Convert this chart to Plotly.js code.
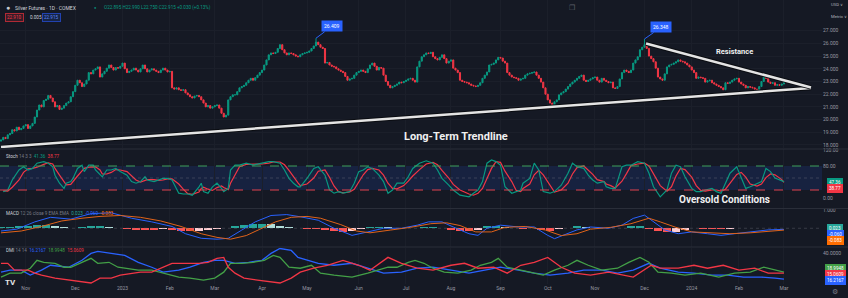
<!DOCTYPE html>
<html><head><meta charset="utf-8">
<script src="https://cdn.plot.ly/plotly-3.0.1.min.js"></script>
<style>html,body{margin:0;padding:0;background:#151924;}#chart{width:848px;height:298px;}</style>
</head><body><div id="chart"></div>
<script>
// ---------- data ----------
const firstOpen = 18.3;
const closes = [
18.4,18.6,18.5,18.8,18.9,19.2,19.1,19.4,19.2,19.3,
19.5,19.6,19.3,19.5,19.7,20.2,20.75,21.15,21.0,21.5,
21.6,21.9,21.7,21.4,21.0,21.1,20.8,20.9,21.1,21.3,
21.4,21.8,22.2,22.7,23.1,22.9,22.6,22.8,23.1,23.7,
23.6,23.9,24.0,24.15,23.35,23.6,23.8,24.05,24.3,24.1,
23.9,24.1,24.05,24.2,24.45,24.0,23.7,23.8,23.9,24.05,
23.9,23.75,24.0,24.3,24.0,23.75,23.9,24.0,23.9,23.8,
23.7,23.9,24.05,23.9,23.75,23.8,22.5,22.4,22.5,22.35,
22.3,22.35,22.1,21.95,21.8,21.7,21.85,21.9,21.8,21.55,
21.3,21.0,21.1,20.9,21.0,21.1,21.15,20.9,20.5,20.2,
20.35,21.55,21.8,21.95,21.95,22.2,22.5,22.6,22.7,22.9,
23.1,23.25,23.1,23.3,23.5,23.7,23.9,24.3,24.7,25.1,
25.25,25.2,25.3,25.6,25.9,25.5,25.25,25.1,25.25,25.2,
25.1,25.0,24.95,25.1,25.2,25.25,25.3,25.4,25.6,25.8,
26.1,25.9,25.7,25.6,24.45,24.5,24.3,24.2,24.15,24.0,
23.9,23.8,23.7,23.4,23.1,23.2,23.25,23.5,23.7,23.8,
23.9,23.8,23.7,24.0,24.3,24.45,24.2,23.9,24.1,24.05,
23.5,23.0,22.7,22.5,22.6,22.7,22.8,22.95,22.9,23.0,
23.1,23.2,23.25,23.1,22.95,24.15,24.6,24.95,25.1,25.25,
25.2,25.3,24.95,24.8,24.7,24.9,25.1,24.8,24.45,24.6,
24.7,24.05,23.9,23.7,23.1,23.0,22.95,22.9,22.8,22.7,
22.65,22.6,22.7,22.9,23.25,23.5,23.75,24.3,24.35,24.45,
24.7,24.9,24.85,24.6,24.45,23.7,23.5,23.35,23.3,23.25,
23.1,23.2,23.25,23.5,23.6,23.65,23.7,23.75,23.5,23.25,
22.95,22.5,22.0,21.55,21.3,21.15,21.4,21.55,21.95,22.1,
22.2,22.4,22.6,22.8,22.95,23.1,23.25,23.4,23.5,23.1,
23.0,23.1,23.2,23.3,23.35,23.1,22.95,23.25,23.1,23.0,
22.9,22.95,22.5,22.45,22.6,23.2,23.7,23.9,23.8,23.7,
23.9,24.45,24.7,24.95,25.5,25.7,25.9,25.6,25.0,24.8,
24.55,24.05,23.35,23.2,23.1,23.6,24.15,24.3,24.35,24.45,
24.55,24.7,24.6,24.55,24.45,24.3,24.15,23.9,23.7,23.25,
23.35,23.3,23.25,22.95,23.05,23.1,22.9,22.8,22.7,22.6,
22.5,22.35,22.9,22.85,22.95,23.1,23.2,23.25,22.95,22.8,
22.7,22.5,22.6,22.55,22.5,22.4,22.35,22.6,23.0,23.35,
23.25,22.95,22.85,22.9,22.7,22.75,22.7,22.8,22.95
];
const peakIdx = [140, 286];
const peakHigh = [26.409, 26.348];
const peakText = ['26.409', '26.348'];

const monthIdx = [11,33,54,75,95,116,136,159,180,200,222,243,264,286,307,328,348];
const monthLbl = ['Nov','Dec','2023','Feb','Mar','Apr','May','Jun','Jul','Aug','Sep','Oct','Nov','Dec','2024','Feb','Mar'];
const priceTicks = [18,19,20,21,22,23,24,25,26,27];
const priceTickText = ['18.000','19.000','20.000','21.000','22.000','23.000','24.000','25.000','26.000','27.000'];

const supportX = [0, 360];
const supportY = [17.84, 22.49];
const resistX = [286.7, 360];
const resistY = [25.99, 22.53];

const stochX = [1,3,5,8,10,12,14,16,19,21,23,24,26,28,29,31,32,34,36,37,39,41,42,44,45,47,49,51,53,56,58,60,62,64,65,68,70,72,74,76,79,81,83,85,88,89,90,92,94,96,98,99,101,102,104,106,109,112,116,119,121,124,126,128,130,132,133,136,139,141,144,146,148,150,152,155,157,159,161,163,165,168,170,172,174,176,179,181,183,186,189,192,194,196,199,201,204,208,210,212,214,216,218,220,222,224,227,229,231,232,235,237,239,241,244,246,249,252,254,256,259,261,263,265,268,269,271,273,276,278,280,283,286,288,290,293,296,298,300,302,304,307,309,311,313,316,318,320,322,324,327,329,331,333,336,338,340,342,344,347,348];
const stochK = [16,20,45,70,78,70,74,87,91,87,78,57,37,24,37,41,49,74,82,66,82,82,70,57,53,70,70,74,66,57,41,37,41,53,45,41,45,49,49,45,12,10,10,7,28,37,16,12,28,37,24,16,24,70,82,82,87,82,87,91,91,87,70,49,37,28,28,49,74,78,57,20,12,16,12,16,37,66,70,78,74,57,41,12,20,37,37,53,74,87,93,87,70,49,32,20,7,3,12,20,41,87,95,91,82,28,12,16,20,37,49,87,70,16,12,16,32,62,87,78,74,57,45,37,41,28,24,24,78,82,82,91,87,62,28,3,20,62,82,78,53,24,16,16,20,24,16,12,37,62,78,53,24,28,37,41,74,66,50,42,41];
const stochD = [18,17,27,45,64,73,74,77,84,88,85,74,57,39,33,34,42,55,68,74,77,77,78,70,60,60,64,71,70,66,55,45,40,44,46,46,44,45,48,48,35,22,11,9,15,24,27,22,19,26,30,26,21,37,59,78,84,84,85,87,90,90,83,69,52,38,31,35,50,67,70,52,30,16,13,15,22,40,58,71,74,70,57,37,24,23,31,42,55,71,85,89,83,69,50,34,20,10,7,12,24,49,74,91,89,67,41,19,16,24,35,58,69,58,33,15,20,37,60,76,80,70,59,46,41,35,31,25,42,61,81,85,87,80,59,31,17,28,55,74,71,52,31,19,17,20,20,17,22,37,59,64,52,35,30,35,51,60,58,46,39];

const macdX = [0,7,15,22,31,40,49,58,67,76,82,89,96,101,107,113,120,127,133,141,148,156,163,170,178,185,190,196,201,208,212,216,222,230,237,243,246,250,256,262,270,276,281,286,290,295,301,307,314,320,326,333,341,348];
const macdLine = [-0.15,-0.05,0.35,0.6,0.5,0.8,0.85,0.55,0.35,0.1,-0.3,-0.55,-0.6,-0.55,-0.1,0.35,0.7,0.75,0.63,0.44,0,-0.39,-0.2,0,0,0.17,0.35,0.35,0.07,-0.3,-0.39,0,0.17,0.07,0.07,-0.39,-0.57,-0.39,-0.09,0.07,0,0.17,0.54,0.72,0.35,-0.09,-0.3,-0.2,-0.3,-0.39,-0.3,-0.2,-0.09,-0.06];
const signalX = [0,9,18,27,36,44,53,62,71,80,89,96,102,109,116,122,129,136,142,151,158,164,173,182,191,198,204,211,218,224,233,242,249,256,262,271,280,288,293,300,307,316,324,333,342,348];
const signalLine = [-0.25,-0.15,0.1,0.4,0.55,0.65,0.7,0.6,0.4,0.1,-0.3,-0.5,-0.6,-0.4,0,0.35,0.6,0.65,0.55,0.2,-0.15,-0.25,-0.1,0.05,0.25,0.3,0.15,-0.2,-0.2,0.05,0.1,-0.1,-0.4,-0.3,-0.05,0.05,0.25,0.55,0.35,0.05,-0.2,-0.25,-0.3,-0.25,-0.15,-0.1];
const histX = [0,4,8,12,16,20,24,28,32,36,40,44,48,52,56,60,64,68,72,76,80,84,88,92,96,100,104,108,112,116,120,124,128,132,136,140,144,148,152,156,160,164,168,172,176,180,184,188,192,196,200,204,208,212,216,220,224,228,232,236,240,244,248,252,256,260,264,268,272,276,280,284,288,292,296,300,304,308,312,316,320,324,328,332,336,340,344,348];
const histVal = [0.05,0.05,0.1,0.12,0.17,0.2,0.15,0.06,0.04,0.08,0.1,0.1,0.09,0,-0.04,-0.07,-0.07,-0.07,-0.06,-0.08,-0.15,-0.15,-0.14,-0.1,-0.05,0.01,0.1,0.2,0.25,0.25,0.22,0.14,0.07,0.01,-0.05,-0.06,-0.1,-0.16,-0.18,-0.16,-0.05,0.05,0.08,0.06,0.03,0.02,0.04,0.05,0.05,0.03,-0.07,-0.13,-0.13,-0.1,0.1,0.11,0.05,0.01,-0.02,0.01,-0.11,-0.15,-0.04,0.04,0.11,0.08,0.04,-0.01,-0.01,0.02,0.1,0.12,-0.03,-0.13,-0.19,-0.18,-0.09,0,-0.03,-0.04,-0.06,-0.02,0.01,0.03,0.04,0.04,0.03,0.02];

const adxX = [0,4,9,13,18,22,30,36,40,43,49,55,61,67,72,79,84,90,95,99,104,110,116,120,124,129,132,141,148,156,163,170,178,185,192,200,208,215,222,230,237,244,252,259,267,274,281,288,293,301,308,316,323,330,338,344,348];
const adx = [21,23,23,18,23,28,26,33,40,42,40,38,31,26,21,23,26,31,33,33,30,31,33,40,45,43,36,30,28,30,25,20,21,25,26,23,20,23,26,23,20,18,20,23,23,20,23,30,25,21,20,18,18,16,16,15,14];
const plusX = [0,4,9,13,16,19,24,28,31,36,40,43,48,52,56,61,67,72,79,84,90,95,99,102,107,112,117,121,124,128,133,138,142,148,156,163,168,172,176,181,184,188,192,197,203,209,213,218,221,225,231,237,241,246,252,256,261,267,274,279,284,288,292,298,304,311,319,326,333,339,344,348];
const plusDI = [16,20,20,25,33,31,30,26,26,31,35,30,31,26,25,23,23,20,16,15,13,15,21,30,30,31,33,38,36,26,25,28,20,18,16,20,23,26,26,31,33,30,25,21,20,23,28,31,35,26,23,20,18,23,28,33,28,23,25,31,36,31,21,20,18,20,16,20,21,26,23,21];
const minusX = [0,3,6,9,12,15,18,24,30,36,40,44,49,53,58,62,67,71,76,81,88,92,96,99,101,104,108,114,120,124,129,133,139,145,152,159,164,172,178,185,192,200,206,212,219,225,231,237,243,249,255,262,270,276,281,289,293,301,308,314,321,328,335,341,348];
const minusDI = [30,30,23,23,23,20,18,15,13,11,10,15,15,18,20,21,21,25,30,30,30,31,35,36,26,20,15,13,11,10,15,21,25,28,33,28,23,36,30,25,23,28,30,25,26,20,28,31,36,26,20,18,21,18,16,28,25,25,28,25,28,23,25,20,20];

// ---------- build ----------
const idx = closes.map((_, i) => i);
const opens = closes.map((c, i) => i === 0 ? firstOpen : closes[i - 1]);
const highs = closes.map((c, i) => Math.max(c, opens[i]));
const lows = closes.map((c, i) => Math.min(c, opens[i]));
peakIdx.forEach((p, k) => { highs[p] = peakHigh[k]; });

const UP = '#089981', DN = '#f23645';
const traces = [];
traces.push({type:'candlestick', x: idx, open: opens, high: highs, low: lows, close: closes,
  xaxis:'x', yaxis:'y', whiskerwidth:0,
  increasing:{line:{color:UP, width:1}, fillcolor:UP},
  decreasing:{line:{color:DN, width:1}, fillcolor:DN}, hoverinfo:'skip'});
[[supportX, supportY], [resistX, resistY]].forEach(([xs, ys]) => {
  traces.push({type:'scatter', mode:'lines', x: xs, y: ys, xaxis:'x', yaxis:'y',
    line:{color:'#0b0d12', width:4.5}, hoverinfo:'skip'});
  traces.push({type:'scatter', mode:'lines', x: xs, y: ys, xaxis:'x', yaxis:'y',
    line:{color:'#e4e4e4', width:2.5}, hoverinfo:'skip'});
});
traces.push({type:'scatter', mode:'lines', x: stochX, y: stochD, xaxis:'x', yaxis:'y2', line:{color:'#f23645', width:1.2}});
traces.push({type:'scatter', mode:'lines', x: stochX, y: stochK, xaxis:'x', yaxis:'y2', line:{color:'#089981', width:1.2}});

const histColors = histVal.map((v, i) => {
  const prev = i === 0 ? 0 : histVal[i - 1];
  if (v >= 0) return v >= prev ? '#26a69a' : '#b2dfdb';
  return v <= prev ? '#ff5252' : '#ffcdd2';
});
traces.push({type:'bar', x: histX, y: histVal, width: 3.6, xaxis:'x', yaxis:'y3', marker:{color: histColors, line:{width:0}}});
traces.push({type:'scatter', mode:'lines', x: macdX, y: macdLine, xaxis:'x', yaxis:'y3', line:{color:'#2962ff', width:1}});
traces.push({type:'scatter', mode:'lines', x: signalX, y: signalLine, xaxis:'x', yaxis:'y3', line:{color:'#e0631a', width:1}});

traces.push({type:'scatter', mode:'lines', x: adxX, y: adx, xaxis:'x', yaxis:'y4', line:{color:'#2962ff', width:1.3}});
traces.push({type:'scatter', mode:'lines', x: plusX, y: plusDI, xaxis:'x', yaxis:'y4', line:{color:'#43a047', width:1.3}});
traces.push({type:'scatter', mode:'lines', x: minusX, y: minusDI, xaxis:'x', yaxis:'y4', line:{color:'#f23645', width:1.3}});

const AX = '#9598a1', GRID = '#1b1f2a';
const yBase = {side:'right', anchor:'x', zeroline:false, showline:false, ticks:'', fixedrange:true,
  tickfont:{family:'Roboto, sans-serif', size:5, color:AX}};
const py = p => 1 - p / 284;   // pixel row -> paper fraction
const px = p => p / 822;

const shapes = [
  {type:'rect', xref:'paper', yref:'y2', x0:0, x1:1, y0:20, y1:80, fillcolor:'rgba(41,98,255,0.13)', line:{width:0}, layer:'below'},
  {type:'line', xref:'paper', yref:'y2', x0:0, x1:1, y0:80, y1:80, line:{color:'#3fa05a', width:1, dash:'dash'}},
  {type:'line', xref:'paper', yref:'y2', x0:0, x1:1, y0:20, y1:20, line:{color:'#e0434f', width:1, dash:'dash'}},
  {type:'line', xref:'paper', yref:'y2', x0:0, x1:1, y0:50, y1:50, line:{color:'rgba(120,123,134,0.35)', width:1, dash:'dot'}},
  {type:'line', xref:'paper', yref:'y3', x0:0, x1:1, y0:0, y1:0, line:{color:'rgba(120,123,134,0.35)', width:1, dash:'dot'}},
  {type:'line', xref:'paper', yref:'paper', x0:0, x1:1.032, y0:py(149), y1:py(149), line:{color:'#2a2e39', width:1}},
  {type:'line', xref:'paper', yref:'paper', x0:0, x1:1.032, y0:py(208.5), y1:py(208.5), line:{color:'#2a2e39', width:1}},
  {type:'line', xref:'paper', yref:'paper', x0:0, x1:1.032, y0:py(247), y1:py(247), line:{color:'#2a2e39', width:1}}
];

const F = 'Roboto, "Open Sans", sans-serif';
function txt(x, y, text, size, color, extra) {
  return Object.assign({xref:'paper', yref:'paper', x: px(x), y: py(y), text, showarrow:false,
    font:{family:F, size, color}, xanchor:'left', yanchor:'middle'}, extra || {});
}
function box(x, y, text, bg, border, fc) {
  return txt(x, y, text, 4.6, fc || '#ffffff', {bgcolor: bg, bordercolor: border || bg, borderwidth:1, borderpad:1, xanchor:'center'});
}
const annotations = [
  txt(4, 8, '\u25CF', 7, '#c8cad0'),
  txt(13, 8, 'Silver Futures \u00B7 1D \u00B7 COMEX', 5, '#d1d4dc'),
  txt(92, 8, '\u25CF', 4, '#089981'),
  txt(102, 8, 'O22.895 H22.990 L22.750 C22.915 +0.030 (+0.13%)', 4.6, '#089981'),
  box(14, 17, '22.910', 'rgba(242,54,69,0.15)', '#b02a35', '#f23645'),
  txt(28, 17, '0.005', 4.6, '#d1d4dc'),
  box(51, 17, '22.915', 'rgba(41,98,255,0.15)', '#2242b0', '#5b86ff'),
  {xref:'x', yref:'y', x: peakIdx[0], y: peakHigh[0], text: peakText[0], showarrow:true, arrowhead:0, arrowwidth:1,
    arrowcolor:'#2962ff', ax:16, ay:-12, bgcolor:'#2962ff', borderpad:2, font:{family:F, size:5, color:'#ffffff'}},
  {xref:'x', yref:'y', x: peakIdx[1], y: peakHigh[1], text: peakText[1], showarrow:true, arrowhead:0, arrowwidth:1,
    arrowcolor:'#2962ff', ax:17, ay:-12, bgcolor:'#2962ff', borderpad:2, font:{family:F, size:5, color:'#ffffff'}},
  txt(456, 136, '<b>Long-Term Trendline</b>', 11, '#f0f0f0', {xanchor:'center'}),
  txt(734, 52, '<b>Resistance</b>', 7.5, '#f0f0f0', {xanchor:'center'}),
  txt(724, 199, '<b>Oversold Conditions</b>', 10, '#f0f0f0', {xanchor:'center'}),
  txt(4, 156, 'Stoch <span style="color:#787b86">14 3 3</span>  <span style="color:#089981">41.36</span>  <span style="color:#f23645">38.77</span>', 4.6, '#d1d4dc'),
  txt(4, 213, 'MACD <span style="color:#787b86">12 26 close 9 EMA EMA</span>  <span style="color:#26a69a">0.023</span>  <span style="color:#2962ff">-0.060</span>  <span style="color:#ff6d00">-0.083</span>', 4.6, '#d1d4dc'),
  txt(4, 250, 'DMI <span style="color:#787b86">14 14</span>  <span style="color:#2962ff">16.2167</span>  <span style="color:#43a047">18.9948</span>  <span style="color:#f23645">15.0609</span>', 4.6, '#d1d4dc'),
  box(835, 182, '47.36', '#089981'),
  box(835, 188, '38.77', '#f23645'),
  box(835, 228, '0.023', '#26a69a'),
  box(835, 234, '-0.060', '#2962ff'),
  box(835, 240, '-0.083', '#ff6d00'),
  box(835, 268, '18.9948', '#43a047'),
  box(835, 274, '15.0609', '#f23645'),
  box(835, 280, '16.2167', '#2962ff'),
  txt(829, 5, 'USD \u2228', 4.2, '#b2b5be'),
  txt(829, 16, 'Metric \u2228', 4.2, '#b2b5be'),
  txt(835, 292, '\u2699', 7, '#787b86', {xanchor:'center'}),
  txt(3, 282, '<b>TV</b>', 8, '#e6e6e6'),
  txt(572, 8, '\u2750', 7, '#5d606b', {xanchor:'center'})
];

const layout = {
  width:848, height:298, paper_bgcolor:'#151924', plot_bgcolor:'#151924',
  margin:{l:0, r:26, t:0, b:14}, showlegend:false, bargap:0, hovermode:false,
  font:{family:F, color:AX},
  xaxis:{range:[-0.45, 364.9], anchor:'y4', tickvals: monthIdx, ticktext: monthLbl, ticks:'',
    tickfont:{family:F, size:5, color:AX}, showgrid:true, gridcolor:GRID, zeroline:false,
    rangeslider:{visible:false}, fixedrange:true},
  yaxis:Object.assign({}, yBase, {domain:[py(148), 1], range:[17.76, 29.42], tickvals: priceTicks, ticktext: priceTickText, showgrid:true, gridcolor:GRID}),
  yaxis2:Object.assign({}, yBase, {domain:[py(208), py(149)], range:[-25, 122.5], tickvals:[0, 80, 120], ticktext:['0.00','80.00','120.00'], showgrid:false}),
  yaxis3:Object.assign({}, yBase, {domain:[py(246.5), py(209)], range:[-1.0, 1.056], tickvals:[1], ticktext:['1.000'], showgrid:false}),
  yaxis4:Object.assign({}, yBase, {domain:[0, py(247.5)], range:[9, 46], tickvals:[40], ticktext:['40.0000'], showgrid:false}),
  shapes, annotations
};
Plotly.newPlot('chart', traces, layout, {displayModeBar:false, staticPlot:true});
</script></body></html>
